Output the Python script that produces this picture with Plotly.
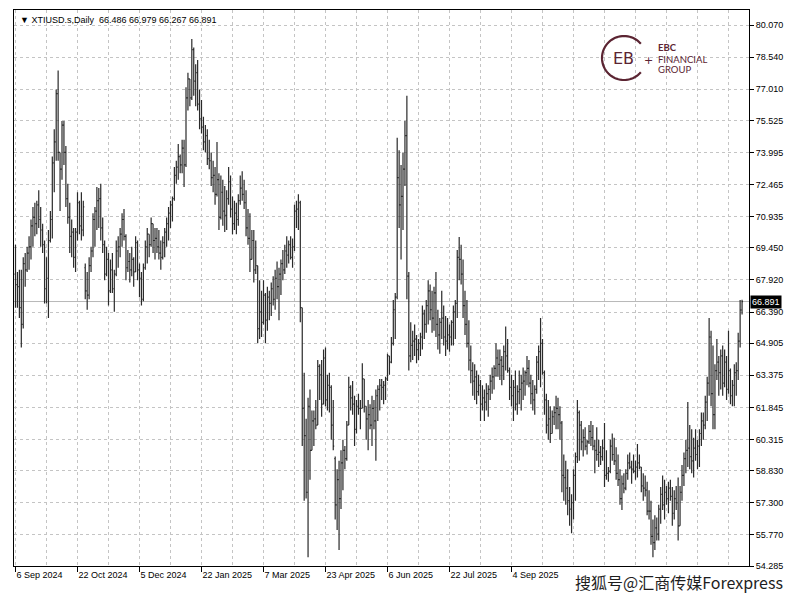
import math
import plotly.graph_objects as go

symbol = "XTIUSD.s,Daily"
tick_labels = ["6 Sep 2024", "22 Oct 2024", "5 Dec 2024", "22 Jan 2025", "7 Mar 2025",
               "23 Apr 2025", "6 Jun 2025", "22 Jul 2025", "4 Sep 2025"]
tick_bars = [0, 32, 64, 96, 128, 160, 192, 224, 256]
price_ticks = [80.070, 78.540, 77.010, 75.525, 73.995, 72.465, 70.935, 69.450, 67.920,
               66.390, 64.905, 63.375, 61.845, 60.315, 58.830, 57.300, 55.770, 54.285]

open_ = [
    68.2, 67.7, 67.6, 66.6, 65.8, 68.7, 68.4, 69.2, 69.5, 70.5,
    70.9, 70.6, 71.5, 70.8, 70.3, 69.6, 67.5, 68.0, 69.8, 70.8,
    73.5, 74.5, 76.8, 74.0, 73.2, 75.3, 74.0, 71.8, 70.9, 70.0,
    70.2, 69.0, 70.2, 71.6, 70.5, 70.3, 68.5, 67.4, 67.2, 68.6,
    69.3, 70.8, 71.2, 71.7, 71.8, 70.4, 69.6, 68.2, 68.9, 67.4,
    68.4, 67.5, 68.2, 69.3, 69.5, 70.1, 70.8, 70.0, 68.5, 68.8,
    68.4, 68.9, 68.3, 69.7, 68.4, 68.0, 67.0, 68.5, 69.5, 70.1,
    69.6, 70.6, 69.8, 69.9, 69.5, 69.2, 69.0, 69.7, 70.2, 70.6,
    71.1, 71.5, 71.8, 72.9, 73.3, 73.8, 73.4, 74.2, 73.4, 76.6,
    77.5, 76.6, 78.9, 77.4, 77.8, 76.3, 75.6, 75.2, 74.5, 74.8,
    73.7, 73.6, 72.8, 72.9, 72.0, 72.7, 70.9, 72.1, 71.2, 71.0,
    71.8, 72.6, 71.3, 70.6, 71.1, 70.8, 71.7, 72.3, 72.0, 71.6,
    70.4, 69.9, 68.9, 69.8, 68.4, 68.6, 65.6, 66.4, 65.9, 67.2,
    66.0, 67.1, 66.8, 67.5, 67.0, 68.0, 67.6, 68.2, 68.7, 68.4,
    69.3, 69.1, 69.6, 69.0, 69.5, 71.2, 71.3, 71.6, 66.6, 61.8,
    60.5, 57.8, 61.9, 59.8, 61.2, 61.3, 61.0, 63.8, 63.4, 62.0,
    64.2, 62.2, 62.9, 62.8, 61.0, 59.4, 57.2, 58.4, 57.5, 59.2,
    59.8, 59.4, 61.0, 62.8, 62.3, 62.0, 60.8, 61.9, 61.8, 61.8,
    63.2, 61.9, 61.3, 61.5, 61.0, 61.8, 61.2, 62.4, 62.7, 62.9,
    62.8, 62.9, 63.2, 64.3, 64.0, 64.9, 66.5, 67.1, 72.8, 71.5,
    71.9, 73.2, 74.8, 68.1, 64.3, 64.8, 65.0, 65.1, 64.6, 64.9,
    65.2, 66.3, 65.8, 66.7, 67.4, 66.5, 66.1, 67.3, 65.8, 65.3,
    65.9, 66.1, 65.2, 65.0, 65.3, 65.2, 65.9, 66.4, 66.8, 69.0,
    68.9, 68.2, 66.7, 65.8, 64.9, 64.1, 63.6, 63.1, 63.3, 62.6,
    62.9, 62.0, 62.3, 62.1, 62.5, 62.7, 63.1, 63.3, 63.7, 64.2,
    63.9, 64.1, 63.8, 64.5, 64.3, 63.6, 62.8, 62.4, 62.8, 62.0,
    62.6, 62.7, 63.0, 63.1, 63.5, 63.7, 63.0, 62.5, 62.2, 62.7,
    64.0, 64.5, 64.9, 63.5, 62.2, 61.0, 61.3, 60.6, 61.4, 61.6,
    61.8, 61.5, 61.1, 58.6, 58.5, 58.0, 57.4, 57.0, 57.3, 58.6,
    59.5, 61.6, 61.0, 60.2, 60.4, 60.0, 60.2, 60.7, 60.4, 60.0,
    59.8, 59.6, 59.7, 59.5, 59.9, 58.6, 58.7, 58.8, 60.0, 59.6,
    59.3, 58.7, 58.4, 57.5, 58.2, 58.0, 58.7, 59.2, 59.0, 58.9,
    58.8, 59.0, 59.2, 59.0, 58.1, 58.0, 57.9, 56.9, 56.9, 55.7,
    55.4, 56.1, 55.8, 57.0, 57.7, 57.2, 57.8, 57.5, 58.0, 57.6,
    56.8, 57.5, 57.3, 56.2, 57.8, 58.6, 59.4, 59.8, 59.9, 59.5,
    59.3, 59.9, 59.6, 60.0, 60.6, 61.2, 61.0, 62.1, 63.0, 65.2,
    62.5, 61.5, 63.6, 64.0, 63.5, 64.3, 63.0, 64.0, 62.7, 63.6,
    62.4, 62.9, 63.5, 63.6, 65.0, 66.486,
]

high = [
    69.6, 68.3, 68.4, 68.4, 69.0, 69.2, 69.5, 70.0, 70.8, 71.4,
    71.6, 71.7, 72.2, 71.4, 70.6, 69.8, 69.0, 70.3, 71.2, 73.8,
    75.1, 77.0, 77.9, 74.0, 75.5, 75.5, 74.3, 72.5, 71.6, 70.8,
    70.4, 70.4, 72.1, 71.7, 72.1, 71.7, 68.7, 68.3, 69.0, 69.5,
    71.1, 71.4, 72.35, 72.3, 72.5, 70.9, 69.8, 69.5, 69.2, 68.9,
    69.2, 68.4, 69.8, 70.0, 70.4, 71.1, 71.3, 70.1, 69.35, 69.2,
    69.5, 69.0, 70.0, 69.8, 68.7, 68.3, 68.7, 69.8, 70.4, 70.1,
    70.9, 70.6, 70.4, 70.4, 70.3, 69.8, 70.0, 70.4, 70.9, 71.4,
    71.7, 71.9, 73.3, 73.6, 74.4, 73.9, 74.6, 74.6, 77.1, 77.8,
    77.5, 79.4, 79.0, 78.2, 78.4, 77.0, 76.5, 75.7, 75.3, 75.1,
    74.6, 74.0, 73.6, 73.3, 74.5, 73.0, 72.9, 72.7, 72.4, 72.2,
    73.3, 72.9, 71.9, 71.7, 71.6, 72.0, 72.9, 73.1, 72.7, 72.2,
    71.3, 71.1, 70.3, 70.3, 69.8, 68.6, 67.9, 67.4, 67.9, 67.3,
    67.6, 67.4, 67.8, 68.1, 68.4, 68.8, 68.5, 68.9, 69.35, 69.6,
    70.0, 69.8, 70.0, 69.9, 71.5, 71.7, 72.0, 71.7, 66.6, 63.5,
    61.3, 62.3, 62.7, 61.7, 61.7, 62.2, 64.1, 63.9, 64.1, 64.6,
    64.7, 63.4, 63.5, 62.9, 62.2, 59.5, 58.9, 59.3, 59.8, 60.3,
    60.0, 61.2, 63.3, 62.9, 63.1, 62.4, 62.2, 62.5, 62.2, 63.95,
    63.2, 61.9, 62.2, 62.0, 62.4, 62.2, 62.7, 62.9, 63.2, 63.2,
    63.1, 63.3, 64.4, 64.3, 65.2, 66.96, 67.3, 74.7, 74.1, 73.4,
    74.0, 75.5, 76.7, 68.3, 65.9, 65.5, 65.8, 65.3, 65.1, 65.4,
    66.7, 66.5, 66.96, 67.9, 67.7, 67.4, 67.6, 68.3, 66.5, 66.1,
    67.4, 66.7, 66.2, 66.1, 65.8, 66.0, 66.7, 66.96, 69.35, 69.97,
    69.6, 68.9, 67.4, 66.96, 66.0, 64.8, 64.0, 63.9, 63.6, 63.4,
    63.15, 62.9, 62.7, 63.0, 62.9, 63.4, 63.75, 63.85, 64.9, 64.6,
    64.6, 64.3, 64.8, 65.7, 65.1, 63.75, 63.4, 63.15, 63.6, 62.9,
    63.6, 63.4, 63.75, 63.6, 64.3, 64.1, 63.4, 63.15, 62.9, 64.3,
    64.8, 66.1, 65.1, 63.6, 62.5, 62.2, 61.9, 61.7, 61.9, 62.4,
    62.3, 61.9, 61.2, 59.6, 59.3, 58.9, 58.05, 57.7, 58.9, 59.7,
    62.2, 61.7, 61.2, 60.8, 60.9, 60.3, 61.0, 61.2, 61.0, 60.3,
    60.9, 60.3, 60.0, 60.3, 61.1, 59.8, 59.0, 60.3, 60.6, 60.4,
    59.95, 59.6, 58.9, 58.6, 58.7, 58.9, 59.6, 59.7, 59.3, 59.6,
    59.3, 60.1, 59.6, 59.0, 58.7, 58.6, 58.3, 57.9, 57.4, 56.5,
    56.7, 56.6, 57.2, 58.05, 58.6, 58.4, 58.1, 58.3, 58.4, 58.05,
    57.9, 58.1, 58.5, 58.1, 59.1, 59.7, 60.3, 62.1, 61.0, 60.8,
    60.4, 60.8, 60.3, 60.8, 61.6, 61.6, 62.4, 63.3, 66.1, 65.5,
    64.8, 63.9, 65.1, 64.3, 64.6, 64.8, 64.6, 64.3, 65.5, 63.7,
    63.15, 63.9, 64.0, 65.4, 66.96, 66.979,
]

low = [
    66.6, 66.6, 66.1, 64.7, 65.6, 67.6, 68.3, 68.4, 68.9, 69.5,
    70.0, 70.1, 70.4, 69.5, 69.2, 66.8, 66.8, 66.1, 69.7, 69.9,
    72.1, 73.6, 73.6, 71.2, 72.7, 73.4, 71.4, 70.6, 69.2, 69.0,
    68.5, 68.3, 69.8, 70.1, 69.8, 70.0, 67.0, 66.5, 67.0, 68.3,
    69.0, 69.5, 70.3, 70.4, 69.8, 69.2, 67.9, 68.1, 66.7, 67.3,
    67.3, 66.4, 68.1, 68.5, 69.0, 69.5, 69.8, 67.9, 68.3, 67.8,
    68.1, 67.6, 68.3, 67.9, 67.1, 66.7, 66.9, 68.4, 68.7, 69.0,
    69.5, 69.2, 68.9, 69.2, 68.9, 68.4, 68.9, 69.0, 69.5, 69.8,
    70.4, 70.7, 71.7, 72.5, 72.7, 73.0, 73.0, 72.35, 73.3, 76.0,
    76.2, 76.5, 76.7, 76.2, 76.0, 75.1, 74.9, 74.1, 74.0, 73.4,
    73.2, 72.4, 72.1, 71.5, 71.9, 70.3, 70.8, 70.5, 70.2, 70.3,
    71.5, 70.9, 70.1, 70.3, 70.1, 70.5, 71.5, 71.7, 71.3, 70.0,
    69.6, 68.3, 68.9, 67.8, 68.2, 64.9, 65.1, 65.2, 65.8, 64.9,
    65.5, 66.0, 66.2, 66.7, 66.5, 67.0, 66.0, 67.2, 67.9, 68.2,
    68.5, 68.7, 68.9, 68.5, 69.3, 70.4, 70.3, 65.9, 60.0, 57.4,
    57.5, 54.7, 58.4, 59.8, 60.0, 60.8, 61.0, 62.2, 61.4, 62.0,
    61.9, 61.7, 61.6, 60.3, 59.8, 56.5, 56.0, 55.05, 57.0, 57.9,
    58.9, 59.3, 61.0, 61.7, 61.5, 60.0, 60.6, 61.5, 60.8, 61.8,
    61.6, 60.3, 59.8, 60.8, 60.0, 60.8, 59.3, 61.2, 61.7, 62.2,
    62.0, 62.2, 63.1, 63.4, 63.95, 64.8, 65.1, 67.0, 70.4, 68.9,
    70.3, 72.4, 67.0, 63.6, 64.0, 64.1, 64.3, 63.95, 64.1, 64.3,
    64.6, 65.1, 65.4, 65.8, 66.0, 65.4, 65.5, 65.2, 64.6, 64.4,
    65.1, 64.8, 64.3, 64.6, 64.5, 64.8, 64.8, 65.1, 66.1, 67.9,
    67.7, 66.1, 65.3, 64.7, 63.6, 63.0, 62.4, 62.2, 62.0, 62.4,
    61.2, 61.7, 61.2, 61.7, 61.4, 62.2, 62.5, 62.7, 63.3, 63.3,
    63.15, 62.9, 63.15, 63.6, 63.5, 62.2, 61.9, 61.2, 61.7, 61.5,
    62.0, 61.7, 62.2, 62.4, 62.9, 62.8, 62.0, 61.7, 61.5, 62.5,
    63.15, 62.8, 63.4, 61.5, 60.6, 60.3, 60.15, 60.6, 61.0, 60.8,
    60.8, 60.3, 57.8, 57.4, 57.2, 56.7, 56.2, 55.85, 56.5, 57.4,
    59.2, 59.3, 59.8, 59.5, 59.8, 59.6, 60.1, 60.0, 59.8, 58.7,
    59.3, 59.0, 59.1, 59.3, 58.05, 58.4, 58.3, 58.7, 59.3, 59.1,
    58.4, 58.1, 57.2, 56.95, 57.75, 57.9, 58.4, 58.9, 58.2, 58.7,
    58.4, 58.5, 58.9, 57.8, 57.4, 57.6, 56.7, 56.5, 55.3, 54.7,
    55.05, 55.5, 55.5, 56.3, 56.95, 56.5, 57.2, 56.8, 57.4, 56.2,
    56.5, 56.95, 55.5, 56.2, 57.4, 58.1, 58.7, 59.0, 58.9, 58.7,
    58.5, 59.3, 58.9, 59.0, 60.0, 60.3, 60.8, 61.2, 62.4, 61.9,
    60.8, 60.8, 63.15, 62.4, 62.7, 62.4, 62.8, 62.2, 62.5, 62.0,
    61.9, 61.9, 62.4, 63.15, 64.7, 66.267,
]

close = [
    67.7, 67.6, 66.6, 65.8, 68.7, 68.4, 69.2, 69.5, 70.5, 70.9,
    70.6, 71.5, 70.8, 70.3, 69.6, 67.5, 68.0, 69.8, 70.8, 73.5,
    74.5, 76.8, 74.0, 73.2, 75.3, 74.0, 71.8, 70.9, 70.0, 70.2,
    69.0, 70.2, 71.6, 70.5, 70.3, 71.4, 67.4, 67.2, 68.6, 69.3,
    70.8, 71.2, 71.7, 71.8, 70.4, 69.6, 68.2, 68.9, 67.4, 68.4,
    67.5, 68.2, 69.3, 69.5, 70.1, 70.8, 70.0, 68.5, 68.8, 68.4,
    68.9, 68.3, 69.7, 68.4, 68.0, 67.0, 68.5, 69.5, 70.1, 69.6,
    70.6, 69.8, 69.9, 69.5, 69.2, 69.0, 69.7, 70.2, 70.6, 71.1,
    71.5, 71.8, 72.9, 73.3, 73.8, 73.4, 74.2, 73.4, 76.6, 77.5,
    76.6, 78.9, 77.4, 77.8, 76.3, 75.6, 75.2, 74.5, 74.8, 73.7,
    73.6, 72.8, 72.9, 72.0, 72.7, 70.9, 72.1, 71.2, 71.0, 71.8,
    72.6, 71.3, 70.6, 71.1, 70.8, 71.7, 72.3, 72.0, 71.6, 70.4,
    69.9, 68.9, 69.8, 68.4, 68.6, 65.6, 66.4, 65.9, 67.2, 66.0,
    67.1, 66.8, 67.5, 67.0, 68.0, 67.6, 68.2, 68.7, 68.4, 69.3,
    69.1, 69.6, 69.0, 69.5, 71.2, 71.3, 71.6, 66.6, 61.8, 60.5,
    57.8, 61.9, 59.8, 61.2, 61.3, 61.0, 63.8, 63.4, 62.0, 64.2,
    62.2, 62.9, 62.8, 61.0, 60.0, 57.2, 58.4, 57.5, 59.2, 59.8,
    59.4, 61.0, 62.8, 62.3, 62.0, 60.8, 61.9, 61.8, 61.8, 63.2,
    61.9, 61.3, 61.5, 61.0, 61.8, 61.2, 62.4, 62.7, 62.9, 62.8,
    62.9, 63.2, 64.3, 64.0, 64.9, 66.5, 67.1, 72.8, 71.5, 71.9,
    73.2, 74.8, 68.1, 64.3, 64.8, 65.0, 65.1, 64.6, 64.9, 65.2,
    66.3, 65.8, 66.7, 67.4, 66.5, 66.1, 67.3, 65.8, 65.3, 65.9,
    66.1, 65.2, 65.0, 65.3, 65.2, 65.9, 66.4, 66.8, 69.0, 68.9,
    68.2, 66.7, 65.8, 64.9, 64.1, 63.6, 63.1, 63.3, 62.6, 62.9,
    62.0, 62.3, 62.1, 62.5, 62.7, 63.1, 63.3, 63.7, 64.2, 63.9,
    64.1, 63.8, 64.5, 64.3, 63.6, 62.8, 62.4, 62.8, 62.0, 62.6,
    62.7, 63.0, 63.1, 63.5, 63.7, 63.0, 62.5, 62.2, 62.7, 64.0,
    64.5, 64.9, 63.5, 62.2, 61.0, 61.3, 60.6, 61.4, 61.6, 61.8,
    61.5, 61.1, 58.6, 58.5, 58.0, 57.4, 57.0, 57.3, 58.6, 59.5,
    61.6, 61.0, 60.2, 60.4, 60.0, 60.2, 60.7, 60.4, 60.0, 59.8,
    59.6, 59.7, 59.5, 59.9, 58.6, 58.7, 58.8, 60.0, 59.6, 59.3,
    58.7, 58.4, 57.5, 58.2, 58.0, 58.7, 59.2, 59.0, 58.9, 58.8,
    59.0, 59.2, 59.0, 58.1, 58.0, 57.9, 56.9, 56.9, 55.7, 55.4,
    56.1, 55.8, 57.0, 57.7, 57.2, 57.8, 57.5, 58.0, 57.6, 56.8,
    57.5, 57.3, 56.2, 57.8, 58.6, 59.4, 59.8, 59.9, 59.5, 59.3,
    59.9, 59.6, 60.0, 60.6, 61.2, 61.0, 62.1, 63.0, 65.2, 62.5,
    61.5, 63.6, 64.0, 63.5, 64.3, 63.0, 64.0, 62.7, 63.6, 62.4,
    62.9, 63.5, 63.6, 65.0, 66.486, 66.891,
]

n = len(close)
bars = list(range(n))

# ---- geometry / style (page has an 8px body margin) ----
OFF = 8
W, H = 800 - OFF, 597 - OFF
PLOT_L, PLOT_R, PLOT_T, PLOT_B = 14 - OFF, 749 - OFF, 10 - OFF, 566 - OFF
BAR_PX = 1.9375
x0 = -(15.5 - 14) / BAR_PX
x1 = x0 + (PLOT_R - PLOT_L) / BAR_PX
y_lo = 54.285
y_hi = y_lo + (PLOT_B - PLOT_T) / 20.98

def px(xp):  # reference page pixel -> paper
    return (xp - OFF - PLOT_L) / (PLOT_R - PLOT_L)

def py(yp):
    return (PLOT_B - (yp - OFF)) / (PLOT_B - PLOT_T)

GRID = "#c4c4c4"
DASH = "3px,3px"
BAR_COLOR = "#2a2a2a"
MAROON = "#5b2432"
AXFONT = dict(family="Liberation Sans, Arial, sans-serif", size=9, color="#000000")

fig = go.Figure(go.Ohlc(
    x=bars, open=open_, high=high, low=low, close=close,
    increasing=dict(line=dict(color=BAR_COLOR, width=1.2)),
    decreasing=dict(line=dict(color=BAR_COLOR, width=1.2)),
    tickwidth=0.5, hoverinfo="skip", showlegend=False,
))

fig.update_layout(
    width=W, height=H,
    margin=dict(l=PLOT_L, r=W - PLOT_R, t=PLOT_T, b=H - PLOT_B),
    paper_bgcolor="white", plot_bgcolor="white",
    showlegend=False,
    xaxis=dict(
        range=[x0, x1], rangeslider=dict(visible=False),
        tickmode="array", tickvals=tick_bars, ticktext=tick_labels,
        ticks="outside", ticklen=5, tickcolor="#000000", tickwidth=1,
        ticklabelposition="outside right", tickfont=AXFONT,
        showgrid=True, gridcolor=GRID, griddash=DASH, gridwidth=1,
        minor=dict(tickmode="linear", tick0=0, dtick=16, showgrid=True,
                   gridcolor=GRID, griddash=DASH, gridwidth=1, ticks=""),
        showline=True, linecolor="#000000", linewidth=1, mirror=True,
        zeroline=False, fixedrange=True,
    ),
    yaxis=dict(
        side="right", range=[y_lo, y_hi],
        tickmode="array", tickvals=price_ticks,
        ticktext=[f"{v:.3f}" for v in price_ticks],
        ticks="outside", ticklen=4, tickcolor="#000000", tickwidth=1,
        tickfont=AXFONT,
        showgrid=True, gridcolor=GRID, griddash=DASH, gridwidth=1,
        showline=True, linecolor="#000000", linewidth=1, mirror=True,
        zeroline=False, fixedrange=True,
    ),
)

last = close[-1]
# current price line
fig.add_shape(type="line", xref="paper", yref="y", x0=0, x1=1, y0=last, y1=last,
              line=dict(color="#b8b8b8", width=1), layer="below")

# price label box on the axis
fig.add_annotation(xref="paper", yref="y", x=1, y=last, xanchor="left", yanchor="middle",
                   xshift=1, text=f"{last:.3f}", showarrow=False,
                   font=dict(family="Liberation Sans, Arial, sans-serif", size=9, color="white"),
                   bgcolor="#000000", borderpad=1)

# header
fig.add_annotation(xref="paper", yref="paper", x=0, y=1, xanchor="left", yanchor="top",
                   xshift=4, yshift=-3, showarrow=False,
                   text=f"▼ {symbol}  {open_[-1]:.3f} {high[-1]:.3f} {low[-1]:.3f} {close[-1]:.3f}",
                   font=dict(family="Liberation Sans, Arial, sans-serif", size=9, color="#000000"))

# EBC logo
cx, cy, r = 624, 58, 22
pts = []
for a in range(40, 321, 5):
    t = math.radians(a)
    pts.append((r * math.cos(t), r * math.sin(t)))
path = "M " + " L ".join(f"{x:.2f},{y:.2f}" for x, y in pts)
fig.add_shape(type="path", xref="paper", yref="paper", xsizemode="pixel", ysizemode="pixel",
              xanchor=px(cx), yanchor=py(cy), path=path,
              line=dict(color=MAROON, width=2.2))
fig.add_annotation(xref="paper", yref="paper", x=px(cx - 1), y=py(cy), xanchor="center",
                   yanchor="middle", text="EB", showarrow=False,
                   font=dict(family="DejaVu Sans", size=16, color=MAROON))
fig.add_annotation(xref="paper", yref="paper", x=px(648), y=py(60), xanchor="center",
                   yanchor="middle", text="+", showarrow=False,
                   font=dict(family="DejaVu Sans", size=11, color=MAROON))
for txt, yy, bold in [("EBC", 47, True), ("FINANCIAL", 59, False), ("GROUP", 69, False)]:
    fig.add_annotation(xref="paper", yref="paper", x=px(656), y=py(yy), xanchor="left",
                       yanchor="middle", showarrow=False,
                       text=f"<b>{txt}</b>" if bold else txt,
                       font=dict(family="Lato, Open Sans, sans-serif", size=9.5, color=MAROON))

# watermark
fig.add_annotation(xref="paper", yref="paper", x=px(785), y=py(582), xanchor="right",
                   yanchor="middle", showarrow=False, text="搜狐号@汇商传媒Forexpress",
                   font=dict(family="Noto Sans CJK SC", size=16, color="#1e1e1e",
                             shadow="0px 0px 2px #ffffff"))

fig.write_html("out.html")
